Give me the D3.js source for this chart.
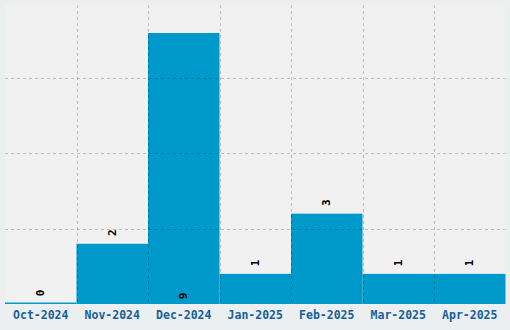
<!DOCTYPE html>
<html>
<head>
<meta charset="utf-8">
<title>monthly bars</title>
<style>
	body { margin: 0; background: #eceff0; }
	svg { display: block; }
</style>
<script src="https://cdn.jsdelivr.net/npm/d3@7/dist/d3.min.js"></script>
</head>
<body>
<script>
	// data
	let months = ['Oct-2024', 'Nov-2024', 'Dec-2024', 'Jan-2025', 'Feb-2025', 'Mar-2025', 'Apr-2025'];
	let counts = [0, 2, 9, 1, 3, 1, 1];
	let gridTicks = [2.5, 5, 7.5];

	let W = 510, H = 330;
	let plotL = 5, plotR = 505.5, plotT = 5, plotB = 304;

	let svg = d3.select('body').append('svg')
		.attr('width', W).attr('height', H);

	svg.append('rect').attr('x', 0).attr('y', 0).attr('width', W).attr('height', H)
		.attr('fill', '#eceff0');
	svg.append('rect').attr('x', plotL).attr('y', plotT)
		.attr('width', plotR - plotL).attr('height', plotB - plotT)
		.attr('fill', '#f1f1f1');

	let x = d3.scaleBand().domain(months).range([plotL, plotR]).padding(0);
	let y = d3.scaleLinear().domain([0, 9.93]).range([plotB, plotT]);

	// bars
	svg.selectAll('rect.bar').data(counts).enter().append('rect')
		.attr('class', 'bar')
		.attr('x', (d, i) => x(months[i]))
		.attr('width', x.bandwidth())
		.attr('y', d => Math.min(y(d), plotB - 1.5))
		.attr('height', d => Math.max(plotB - y(d), 1.5))
		.attr('fill', '#0099cc');

	// grid on top of bars
	let grid = svg.append('g')
		.attr('stroke', 'rgba(0,0,0,0.22)')
		.attr('stroke-width', 1)
		.attr('stroke-dasharray', '3,3');
	grid.selectAll('line.h').data(gridTicks).enter().append('line')
		.attr('x1', plotL).attr('x2', plotR)
		.attr('y1', d => Math.round(y(d)) + 0.5).attr('y2', d => Math.round(y(d)) + 0.5);
	grid.selectAll('line.v').data(months.slice(1)).enter().append('line')
		.attr('x1', d => Math.round(x(d)) + 0.5).attr('x2', d => Math.round(x(d)) + 0.5)
		.attr('y1', plotT).attr('y2', plotB);

	// value labels (rotated)
	svg.selectAll('text.val').data(counts).enter().append('text')
		.attr('class', 'val')
		.attr('transform', function(d, i) {
			let cx = x(months[i]) + x.bandwidth() / 2;
			let cy = y(d) - 11;
			if (cy < plotT + 20) cy = plotB - 8;
			return 'translate(' + cx + ',' + cy + ') rotate(-90)';
		})
		.attr('text-anchor', 'middle')
		.attr('dominant-baseline', 'central')
		.style('font-family', '"DejaVu Sans Mono", monospace')
		.style('font-weight', 'bold')
		.style('font-size', '11px')
		.attr('fill', '#000')
		.text(d => d);

	// month axis labels
	let xAxis = d3.axisBottom(x).tickSize(0).tickPadding(7);
	let gx = svg.append('g').attr('transform', 'translate(0,' + plotB + ')').call(xAxis);
	gx.select('.domain').remove();
	gx.selectAll('text')
		.style('font-family', '"DejaVu Sans Mono", monospace')
		.style('font-weight', 'bold')
		.style('font-size', '11.5px')
		.attr('fill', '#17609a');
</script>
</body>
</html>
